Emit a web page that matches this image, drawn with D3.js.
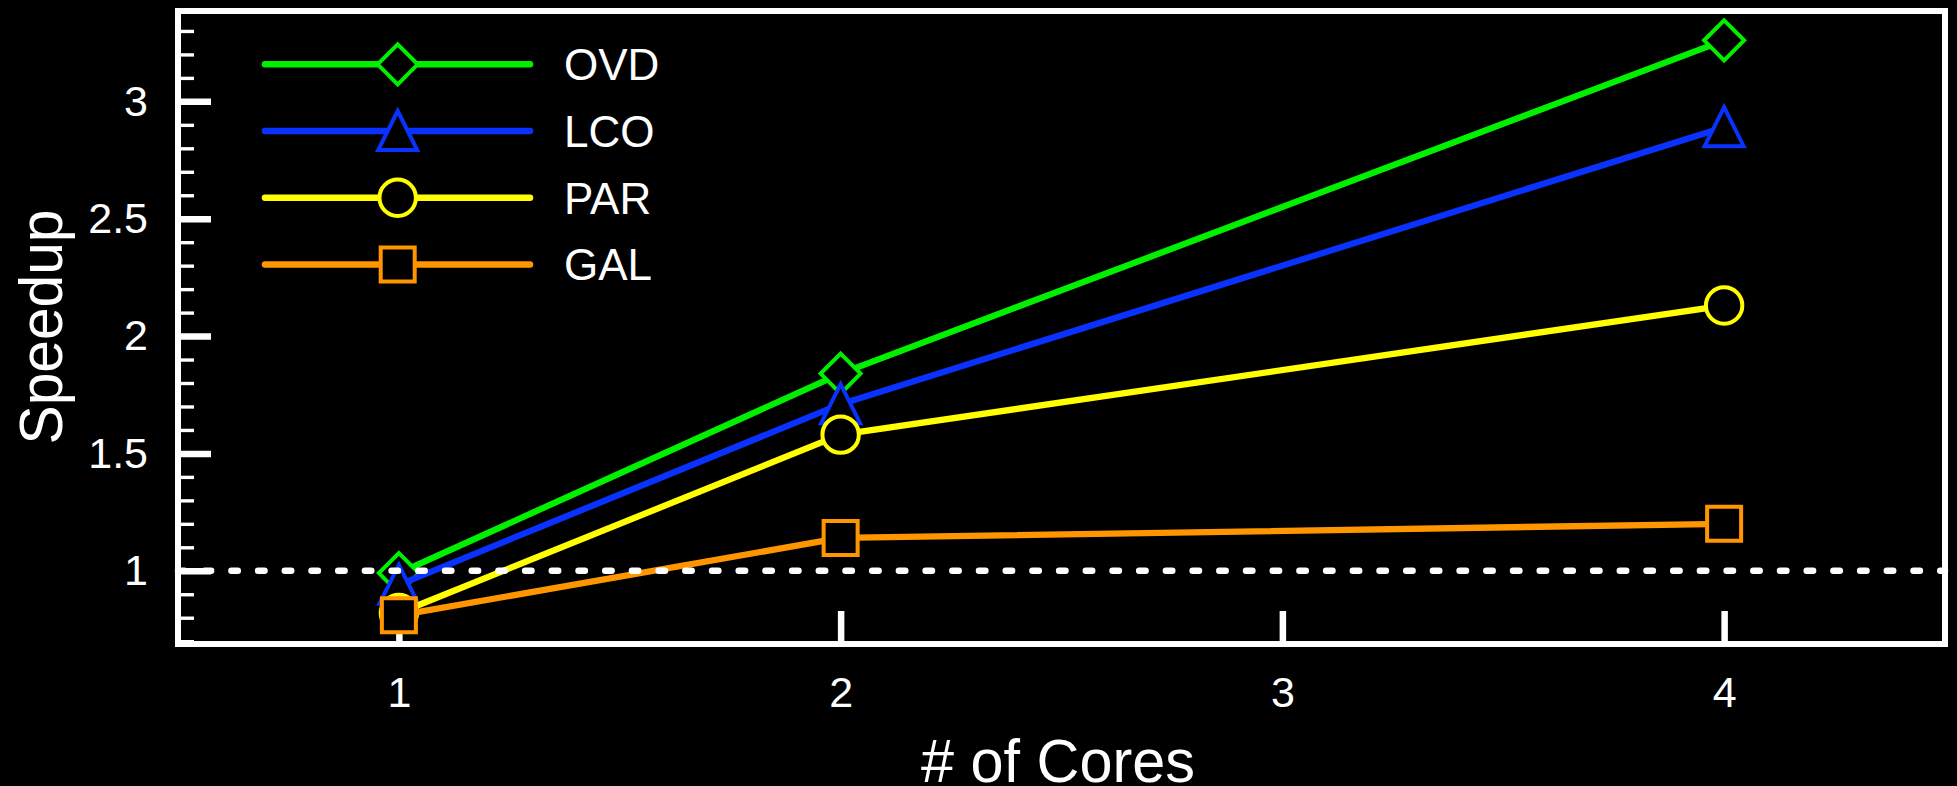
<!DOCTYPE html>
<html>
<head>
<meta charset="utf-8">
<script src="https://cdn.jsdelivr.net/npm/d3@7"></script>
<style>
  html, body { margin: 0; padding: 0; background: #000; }
  svg { display: block; }
  text { font-family: "Liberation Sans", Arial, Helvetica, sans-serif; fill: #fff; }
</style>
</head>
<body>
<svg id="chart" width="1957" height="786"></svg>
<script>
// ---- data ----
const cores = [1, 2, 4];
const seriesNames = ["OVD", "LCO", "PAR", "GAL"];
const ovd = [0.99, 1.84, 3.26];
const lco = [0.94, 1.71, 2.89];
const par = [0.82, 1.58, 2.13];
const gal = [0.81, 1.14, 1.20];
const seriesColors = ["#00f000", "#0a32ff", "#ffff00", "#ff9600"];
const seriesShapes = ["diamond", "triangle", "circle", "square"];
const xTicks = [1, 2, 3, 4];
const yMajorTicks = [1, 1.5, 2, 2.5, 3];
const yMinorTicks = [0.7, 0.8, 0.9, 1.1, 1.2, 1.3, 1.4, 1.6, 1.7, 1.8, 1.9, 2.1, 2.2, 2.3, 2.4, 2.6, 2.7, 2.8, 2.9, 3.1, 3.2, 3.3];
const baseline = 1;
const xLabel = "# of Cores";
const yLabel = "Speedup";

const seriesValues = [ovd, lco, par, gal];

// ---- layout ----
const W = 1957, H = 786;
const plot = { left: 178, right: 1945, top: 11, bottom: 644 };
const svg = d3.select("#chart");
svg.append("rect").attr("width", W).attr("height", H).attr("fill", "#000");

const x = d3.scaleLinear().domain([0.5, 4.5]).range([plot.left, plot.right]);
const y = d3.scaleLinear().domain([0.688, 3.385]).range([plot.bottom, plot.top]);

// frame
svg.append("rect")
  .attr("x", plot.left).attr("y", plot.top)
  .attr("width", plot.right - plot.left).attr("height", plot.bottom - plot.top)
  .attr("fill", "none").attr("stroke", "#fff").attr("stroke-width", 6);

// y minor ticks
const yMinor = svg.append("g").attr("transform", `translate(${plot.left},0)`)
  .call(d3.axisLeft(y).tickValues(yMinorTicks).tickSize(-16).tickFormat(""));
yMinor.select(".domain").remove();
yMinor.selectAll(".tick line").attr("stroke", "#fff").attr("stroke-width", 3.4);

// y major ticks
const yMajor = svg.append("g").attr("transform", `translate(${plot.left},0)`)
  .call(d3.axisLeft(y).tickValues(yMajorTicks).tickSize(-33).tickPadding(30).tickFormat(d3.format("")));
yMajor.select(".domain").remove();
yMajor.selectAll(".tick line").attr("stroke", "#fff").attr("stroke-width", 6.5);
yMajor.selectAll(".tick text").attr("fill", "#fff").attr("font-size", 43)
  .attr("font-family", "'Liberation Sans', Arial, sans-serif");

// x ticks
const xAxis = svg.append("g").attr("transform", `translate(0,${plot.bottom})`)
  .call(d3.axisBottom(x).tickValues(xTicks).tickSize(-33).tickPadding(32).tickFormat(d3.format("d")));
xAxis.select(".domain").remove();
xAxis.selectAll(".tick line").attr("stroke", "#fff").attr("stroke-width", 6.5);
xAxis.selectAll(".tick text").attr("fill", "#fff").attr("font-size", 43)
  .attr("font-family", "'Liberation Sans', Arial, sans-serif");

// axis titles
svg.append("text")
  .attr("transform", `translate(61.7,327) rotate(-90)`)
  .attr("text-anchor", "middle")
  .attr("font-size", 62)
  .attr("textLength", 235).attr("lengthAdjust", "spacingAndGlyphs")
  .text(yLabel);

svg.append("text")
  .attr("x", 1058).attr("y", 782)
  .attr("text-anchor", "middle")
  .attr("font-size", 62)
  .attr("textLength", 274).attr("lengthAdjust", "spacingAndGlyphs")
  .text(xLabel);

// marker paths
function markerPath(shape) {
  if (shape === "diamond") return "M0,-20L20,0L0,20L-20,0Z";
  if (shape === "triangle") return "M0,-20L19.5,19L-19.5,19Z";
  if (shape === "square") return "M-17,-17L17,-17L17,17L-17,17Z";
  return null;
}
function drawMarker(g, shape, color, cx, cy) {
  if (shape === "circle") {
    g.append("circle").attr("cx", cx).attr("cy", cy).attr("r", 18.2)
      .attr("fill", "#000").attr("stroke", color).attr("stroke-width", 4);
  } else {
    g.append("path").attr("d", markerPath(shape))
      .attr("transform", `translate(${cx},${cy})`)
      .attr("fill", "#000").attr("stroke", color).attr("stroke-width", 4)
      .attr("stroke-linejoin", "miter");
  }
}

// series
const line = d3.line().x((d, i) => x(cores[i])).y(d => y(d));
seriesValues.forEach((vals, si) => {
  const g = svg.append("g");
  g.append("path").datum(vals).attr("d", line)
    .attr("fill", "none").attr("stroke", seriesColors[si]).attr("stroke-width", 6.3)
    .attr("stroke-linejoin", "round");
  vals.forEach((v, i) => drawMarker(g, seriesShapes[si], seriesColors[si], x(cores[i]), y(v)));
});

// baseline dotted line
svg.append("line")
  .attr("x1", plot.left).attr("x2", plot.right)
  .attr("y1", y(baseline)).attr("y2", y(baseline))
  .attr("stroke", "#fff").attr("stroke-width", 6.5)
  .attr("stroke-linecap", "round")
  .attr("stroke-dasharray", "6.4 20.3");

// legend
const legend = svg.append("g");
seriesNames.forEach((name, i) => {
  const ly = 64.3 + i * 66.7;
  legend.append("line").attr("x1", 265).attr("x2", 530).attr("y1", ly).attr("y2", ly)
    .attr("stroke", seriesColors[i]).attr("stroke-width", 6.5).attr("stroke-linecap", "round");
  drawMarker(legend, seriesShapes[i], seriesColors[i], 397.7, ly);
  legend.append("text").attr("x", 564).attr("y", ly + 16)
    .attr("font-size", 44).text(name);
});
</script>
</body>
</html>
